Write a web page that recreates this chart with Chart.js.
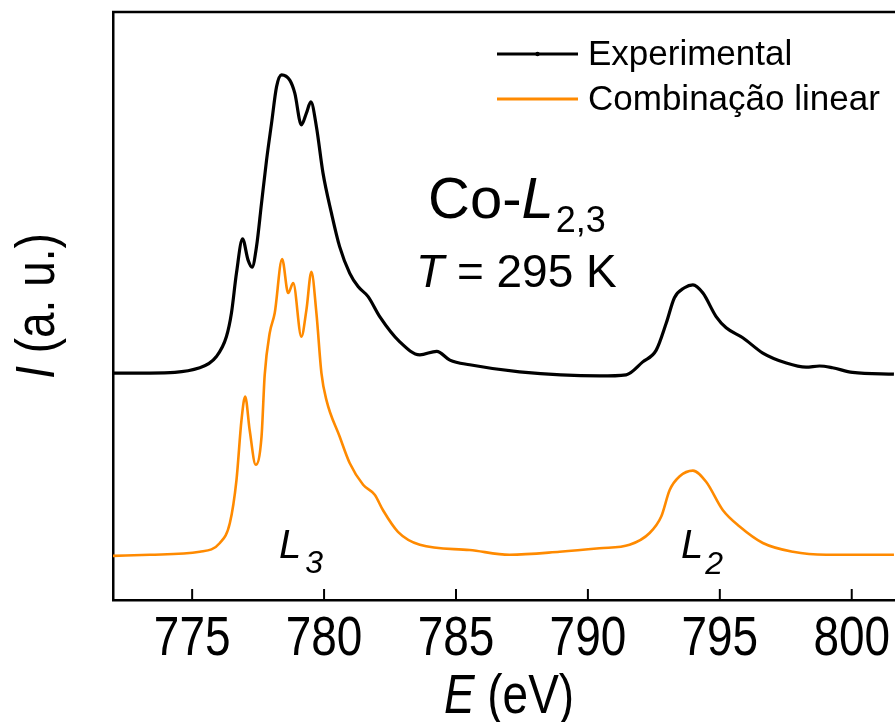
<!DOCTYPE html>
<html>
<head>
<meta charset="utf-8">
<script src="https://cdn.jsdelivr.net/npm/chart.js@4.4.1/dist/chart.umd.min.js"></script>
<style>
  html, body { margin: 0; padding: 0; background: #fff; }
  canvas { display: block; }
</style>
</head>
<body>
<canvas id="xasChart" width="895" height="722"></canvas>
<script>
// Co-L2,3 XAS, T = 295 K (arbitrary units)
const energyExp = [772.0, 773.40, 775.29, 775.92, 776.30, 776.49, 776.68, 776.91, 777.12, 777.27,
  777.44, 777.63, 777.82, 778.01, 778.20, 778.39, 778.70, 778.89, 779.14, 779.33,
  779.50, 779.71, 779.96, 780.28, 780.59, 780.97, 781.29, 781.67, 782.11, 782.87,
  783.63, 784.27, 784.77, 785.52, 787.41, 790.44, 791.45, 792.08, 792.59, 792.97,
  793.28, 793.66, 793.98, 794.36, 794.86, 795.24, 795.87, 796.63, 797.52, 798.27,
  798.78, 799.27, 800.03, 801.6];
const intensityExp = [38.6, 38.6, 39.5, 41.4, 44.8, 48.8, 55.6, 61.4, 57.8, 56.6,
  60.1, 67.5, 74.8, 81.1, 87.3, 89.3, 88.4, 86.2, 80.8, 82.8,
  84.7, 80.5, 72.6, 65.8, 60.1, 55.6, 53.3, 51.6, 48.2, 43.9,
  41.7, 42.3, 40.8, 40.0, 38.8, 38.1, 38.3, 40.5, 42.5, 47.1,
  51.4, 53.1, 53.6, 52.2, 48.2, 46.3, 44.6, 42.0, 40.3, 39.6,
  39.8, 39.5, 38.7, 38.4];

const energyFit = [772.0, 773.40, 775.29, 776.05, 776.43, 776.68, 776.87, 777.01, 777.18, 777.41,
  777.63, 777.75, 777.94, 778.13, 778.41, 778.64, 778.83, 779.14, 779.33, 779.52,
  779.71, 779.90, 780.09, 780.59, 780.97, 781.48, 781.92, 782.23, 782.80, 783.63,
  785.52, 787.03, 788.93, 790.44, 791.58, 792.34, 792.78, 793.10, 793.47, 793.98,
  794.48, 795.11, 795.75, 796.63, 797.77, 799.03, 801.6];
const intensityFit = [7.5, 7.7, 8.2, 9.7, 13.1, 20.4, 30.6, 34.6, 28.9, 23.0,
  27.8, 38.3, 45.4, 48.8, 58.0, 52.2, 53.9, 44.8, 49.3, 55.8,
  48.8, 38.6, 34.0, 27.8, 23.3, 19.6, 17.9, 15.3, 11.6, 9.4,
  8.5, 7.7, 8.2, 8.8, 9.4, 11.4, 14.2, 18.7, 21.0, 22.0,
  20.1, 15.3, 12.5, 9.7, 8.2, 7.7, 7.7];

const seriesNames = ['Experimental', 'Combinação linear'];
const seriesColors = ['#000000', '#ff8a00'];
const xMin = 772.0, xMax = 801.64, xStep = 5;

const SANS = '"Liberation Sans", Arial, sans-serif';
const NARROW = 0.82; // tick labels & axis titles are condensed in the original

function toPoints(xs, ys) {
  return xs.map((x, i) => ({ x: x, y: ys[i] }));
}

// draw a run of text pieces [{t, font, dy}] starting at x
function drawRuns(ctx, x, y, runs, sx) {
  sx = sx || 1;
  ctx.save();
  ctx.translate(x, y);
  ctx.scale(sx, 1);
  let cx = 0;
  runs.forEach(r => {
    ctx.font = r.font;
    ctx.fillText(r.t, cx + (r.dx || 0), r.dy || 0);
    cx += ctx.measureText(r.t).width + (r.dx || 0);
  });
  ctx.restore();
}

function runsWidth(ctx, runs) {
  let w = 0;
  runs.forEach(r => { ctx.font = r.font; w += ctx.measureText(r.t).width + (r.dx || 0); });
  return w;
}

const decorations = {
  id: 'decorations',
  afterDraw(chart) {
    const ctx = chart.ctx;
    const area = chart.chartArea;
    const xs = chart.scales.x;
    ctx.save();
    ctx.fillStyle = '#000';
    ctx.strokeStyle = '#000';

    // top frame line
    ctx.lineWidth = 2.5;
    ctx.beginPath();
    ctx.moveTo(area.left - 1, area.top);
    ctx.lineTo(area.right, area.top);
    ctx.stroke();

    // inward ticks + labels on the energy axis
    ctx.lineWidth = 2;
    ctx.textBaseline = 'alphabetic';
    xs.ticks.forEach(t => {
      const px = xs.getPixelForValue(t.value);
      ctx.beginPath();
      ctx.moveTo(px, area.bottom);
      ctx.lineTo(px, area.bottom - 11);
      ctx.stroke();
      const label = String(t.value);
      const runs = [{ t: label, font: '56px ' + SANS }];
      const w = runsWidth(ctx, runs) * NARROW;
      drawRuns(ctx, px - w / 2, 655, runs, NARROW);
    });

    // x axis title
    const xt = [{ t: 'E', font: 'italic 56px ' + SANS }, { t: ' (eV)', font: '56px ' + SANS }];
    const xw = runsWidth(ctx, xt) * NARROW;
    drawRuns(ctx, (area.left + area.right) / 2 + 5 - xw / 2, 713, xt, NARROW);

    // y axis title (rotated)
    const yt = [{ t: 'I', font: 'italic 56px ' + SANS }, { t: ' (a. u.)', font: '56px ' + SANS }];
    const yw = runsWidth(ctx, yt) * NARROW;
    ctx.save();
    ctx.translate(54, (area.top + area.bottom) / 2);
    ctx.rotate(-Math.PI / 2);
    drawRuns(ctx, -yw / 2, 0, yt, NARROW);
    ctx.restore();

    // edge label and temperature
    drawRuns(ctx, 428, 218, [
      { t: 'Co-', font: '58px ' + SANS },
      { t: 'L', font: 'italic 58px ' + SANS },
      { t: '2,3', font: '36px ' + SANS, dy: 14, dx: 2 }
    ]);
    drawRuns(ctx, 416, 287, [
      { t: 'T', font: 'italic 46px ' + SANS },
      { t: ' = 295 K', font: '46px ' + SANS }
    ]);

    // L3 / L2 peak labels
    drawRuns(ctx, 279, 558, [
      { t: 'L', font: 'italic 40px ' + SANS },
      { t: '3', font: 'italic 32px ' + SANS, dy: 15, dx: 4 }
    ]);
    drawRuns(ctx, 681, 558, [
      { t: 'L', font: 'italic 40px ' + SANS },
      { t: '2', font: 'italic 32px ' + SANS, dy: 16, dx: 2 }
    ]);

    // legend
    const legendY = [54, 99];
    seriesNames.forEach((name, i) => {
      ctx.strokeStyle = seriesColors[i];
      ctx.lineWidth = 3;
      ctx.beginPath();
      ctx.moveTo(497, legendY[i]);
      ctx.lineTo(578, legendY[i]);
      ctx.stroke();
      if (i === 0) {
        ctx.fillStyle = '#000';
        ctx.beginPath();
        ctx.arc(537.5, legendY[i], 2.2, 0, Math.PI * 2);
        ctx.fill();
      }
      ctx.fillStyle = '#000';
      ctx.textBaseline = 'middle';
      ctx.font = '35px ' + SANS;
      ctx.fillText(name, 588, legendY[i] + 1);
      ctx.textBaseline = 'alphabetic';
    });
    ctx.restore();
  }
};

const ctx = document.getElementById('xasChart').getContext('2d');
new Chart(ctx, {
  type: 'line',
  data: {
    datasets: [
      {
        label: seriesNames[0],
        data: toPoints(energyExp, intensityExp),
        borderColor: seriesColors[0],
        borderWidth: 3.2,
        pointRadius: 0,
        cubicInterpolationMode: 'monotone',
        fill: false
      },
      {
        label: seriesNames[1],
        data: toPoints(energyFit, intensityFit),
        borderColor: seriesColors[1],
        borderWidth: 2.6,
        pointRadius: 0,
        cubicInterpolationMode: 'monotone',
        fill: false
      }
    ]
  },
  options: {
    responsive: false,
    animation: false,
    layout: { padding: { top: 12, right: 0, left: 0, bottom: 0 } },
    plugins: { legend: { display: false }, tooltip: { enabled: false } },
    scales: {
      x: {
        type: 'linear',
        min: xMin,
        max: xMax,
        ticks: { display: false, stepSize: xStep, includeBounds: false },
        grid: { display: false, drawTicks: false },
        border: { display: true, color: '#000', width: 2.5 },
        afterFit: s => { s.height = 122; }
      },
      y: {
        min: 0,
        max: 100,
        ticks: { display: false },
        grid: { display: false, drawTicks: false },
        border: { display: true, color: '#000', width: 2.5 },
        afterFit: s => { s.width = 113; }
      }
    }
  },
  plugins: [decorations]
});
</script>
</body>
</html>
